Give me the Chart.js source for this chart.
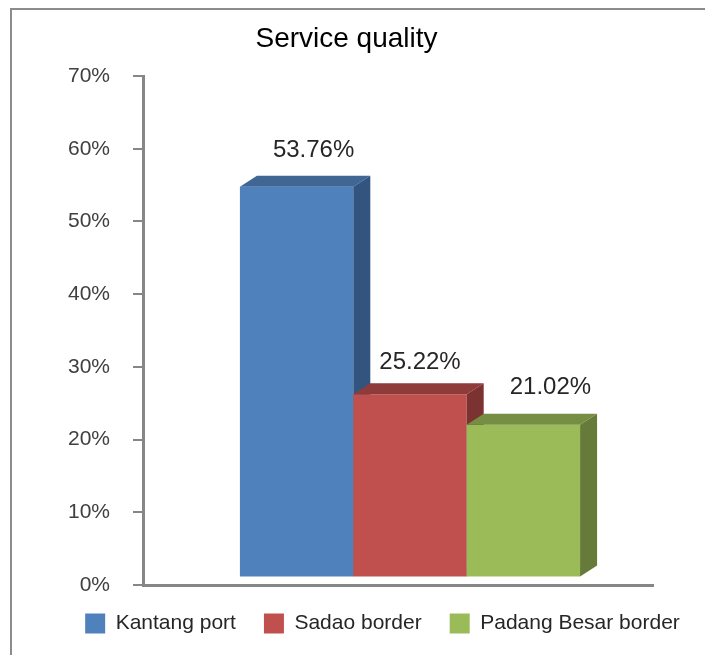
<!DOCTYPE html>
<html>
<head>
<meta charset="utf-8">
<style>
  html, body { margin: 0; padding: 0; background: #fff; }
  #wrap { position: relative; width: 705px; height: 655px; overflow: hidden; }
  #frame { position: absolute; left: 10px; top: 8px; width: 705px; height: 660px; border: 2px solid #8c8c8c; box-sizing: border-box; }
  canvas { position: absolute; left: 0; top: 0; }
</style>
<script src="https://cdn.jsdelivr.net/npm/chart.js@4"></script>
</head>
<body>
<div id="wrap">
  <div id="frame"></div>
  <canvas id="chart" width="705" height="655"></canvas>
</div>
<script>
// data
const categories = ['Service quality'];
const seriesNames = ['Kantang port', 'Sadao border', 'Padang Besar border'];
const seriesValues = [53.76, 25.22, 21.02];
const tickMax = 70;
const tickStep = 10;

// colours
const frontColors = ['#4F81BD', '#C0504D', '#9BBB59'];
const topColors = ['#3F6695', '#8E3B39', '#768D44'];
const sideColors = ['#345480', '#7B3230', '#667A3A'];

// the value labels were dragged by hand in the original
const labelOffsets = [[17, -36], [10, -32], [27, -37]];

const FONT = '"Liberation Sans", Arial, sans-serif';
const DEPTH_X = 17;
const DEPTH_Y = 11;
const SHIFT_X = 12;   // front plane of the 3D bars sits off the axes
const SHIFT_Y = -7.5;

// bars go left to right here so each one covers the side of the one before it
const bar3d = {
    id: 'bar3d',
    beforeDatasetDraw() {
        return false;
    },
    afterDatasetsDraw(chart) {
        const ctx = chart.ctx;
        ctx.save();
        ctx.translate(SHIFT_X, SHIFT_Y);
        chart.data.datasets.forEach((ds, i) => {
            const meta = chart.getDatasetMeta(i);
            meta.controller.draw();
            meta.data.forEach(bar => {
                const left = bar.x - bar.width / 2;
                const right = bar.x + bar.width / 2;
                ctx.fillStyle = topColors[i];
                ctx.beginPath();
                ctx.moveTo(left, bar.y);
                ctx.lineTo(left + DEPTH_X, bar.y - DEPTH_Y);
                ctx.lineTo(right + DEPTH_X, bar.y - DEPTH_Y);
                ctx.lineTo(right, bar.y);
                ctx.closePath();
                ctx.fill();
                ctx.fillStyle = sideColors[i];
                ctx.beginPath();
                ctx.moveTo(right, bar.y);
                ctx.lineTo(right + DEPTH_X, bar.y - DEPTH_Y);
                ctx.lineTo(right + DEPTH_X, bar.base - DEPTH_Y);
                ctx.lineTo(right, bar.base);
                ctx.closePath();
                ctx.fill();
            });
        });
        // value labels
        ctx.font = '24px ' + FONT;
        ctx.fillStyle = '#262626';
        ctx.textAlign = 'center';
        ctx.textBaseline = 'middle';
        chart.data.datasets.forEach((ds, i) => {
            const bar = chart.getDatasetMeta(i).data[0];
            const off = labelOffsets[i];
            ctx.fillText(ds.data[0].toFixed(2) + '%', bar.x + off[0], bar.y + off[1]);
        });
        ctx.restore();
    }
};

// title and legend are not centred on the canvas in the original
const nudgeBlocks = {
    id: 'nudgeBlocks',
    afterLayout(chart) {
        chart.titleBlock.left += 20;
        chart.titleBlock.right += 20;
        chart.legend.left += 56;
        chart.legend.right += 56;
        chart.legend.top -= 8;
        chart.legend.bottom -= 8;
    }
};

new Chart(document.getElementById('chart'), {
    type: 'bar',
    data: {
        labels: categories,
        datasets: seriesNames.map((name, i) => ({
            label: name,
            data: [seriesValues[i]],
            backgroundColor: frontColors[i],
            borderWidth: 0
        }))
    },
    options: {
        responsive: false,
        animation: false,
        layout: { padding: { left: 0, right: 52, top: 0, bottom: 3 } },
        datasets: { bar: { categoryPercentage: 0.667, barPercentage: 1 } },
        scales: {
            x: {
                grid: { display: false },
                ticks: { display: false },
                border: { color: '#868686', width: 3 }
            },
            y: {
                min: 0,
                max: tickMax,
                afterFit(scale) { scale.width = 143; },
                grid: { drawOnChartArea: false, drawTicks: true, tickLength: 10, color: '#868686', lineWidth: 2 },
                border: { color: '#868686', width: 3 },
                ticks: {
                    stepSize: tickStep,
                    padding: 23,
                    color: '#404040',
                    font: { family: FONT, size: 21 },
                    callback: v => v + '%'
                }
            }
        },
        plugins: {
            title: {
                display: true,
                text: 'Service quality',
                color: '#000',
                font: { family: FONT, size: 28, weight: 'normal' },
                padding: { top: 22, bottom: 20.5 }
            },
            legend: {
                display: true,
                position: 'bottom',
                labels: {
                    boxWidth: 20,
                    boxHeight: 20,
                    padding: 28,
                    color: '#262626',
                    font: { family: FONT, size: 21 }
                }
            },
            tooltip: { enabled: false }
        }
    },
    plugins: [bar3d, nudgeBlocks]
});
</script>
</body>
</html>
